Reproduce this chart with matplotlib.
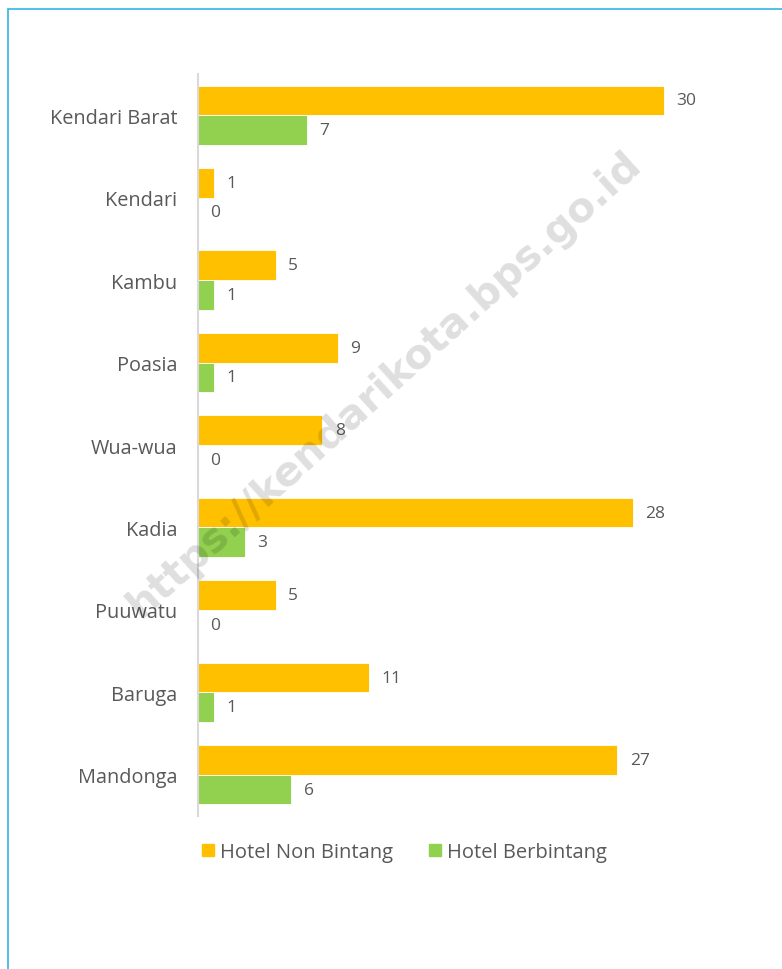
import numpy as np
import matplotlib.pyplot as plt
from matplotlib.patches import Patch, Rectangle

# Data
kecamatan = ['Kendari Barat', 'Kendari', 'Kambu', 'Poasia', 'Wua-wua',
             'Kadia', 'Puuwatu', 'Baruga', 'Mandonga']
non_bintang = [30, 1, 5, 9, 8, 28, 5, 11, 27]
berbintang = [7, 0, 1, 1, 0, 3, 0, 1, 6]

orange = '#FFC000'
green = '#92D050'
txt = '#595959'

plt.rcParams['font.family'] = ['Open Sans', 'DejaVu Sans']

fig = plt.figure(figsize=(7.82, 9.70), dpi=100)
ax = fig.add_axes([0.2532, 0.1577, 0.695, 0.765])

y = np.arange(len(kecamatan))
h = 0.36
b1 = ax.barh(y - h / 2, non_bintang, height=h, color=orange, edgecolor='white', linewidth=0.6)
b2 = ax.barh(y + h / 2, berbintang, height=h, color=green, edgecolor='white', linewidth=0.6)

# value labels
for bars in (b1, b2):
    ax.bar_label(bars, padding=9, fontsize=12.5, color=txt)

ax.set_xlim(0, 35)
ax.set_ylim(len(kecamatan) - 0.5, -0.5)
ax.set_yticks(y)
ax.set_yticklabels(kecamatan, fontsize=14.3, color=txt)
ax.tick_params(axis='y', length=0, pad=15)
ax.set_xticks([])
for s in ['top', 'right', 'bottom']:
    ax.spines[s].set_visible(False)
ax.spines['left'].set_color('#d9d9d9')
ax.spines['left'].set_linewidth(1.5)

# legend
handles = [Patch(color=orange, label='Hotel Non Bintang'),
           Patch(color=green, label='Hotel Berbintang')]
fig.legend(handles=handles, loc='center', bbox_to_anchor=(0.517, 0.1206), ncol=2,
           frameon=False, fontsize=14.5, handlelength=0.6, handleheight=0.6,
           handletextpad=0.3, columnspacing=1.8, labelcolor=txt)

# outer frame (left and top edge only visible)
fig.patches.append(Rectangle((7.5 / 782, -0.1), 1.2, 1.1 - 9.5 / 970,
                             transform=fig.transFigure, fill=False,
                             edgecolor='#33B5E5', linewidth=1.2))

# watermark
fig.text(0.492, 0.603, 'https://kendarikota.bps.go.id', rotation=42,
         ha='center', va='center', fontsize=29.5, fontweight='bold',
         color='black', alpha=0.13, family='DejaVu Sans')

fig.savefig('out.png', dpi=100)
